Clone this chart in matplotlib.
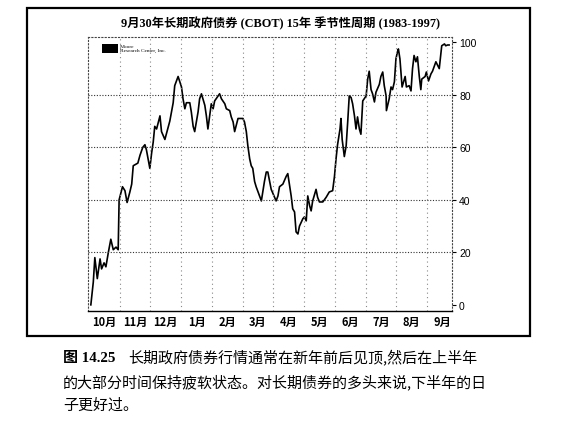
import matplotlib
matplotlib.use("Agg")
import matplotlib.pyplot as plt
from matplotlib.patches import Rectangle

plt.rcParams['font.family'] = ['Noto Sans CJK SC', 'DejaVu Sans']

# 月份位置 (0 = 10月初) 与季节性指数
t = [0.06, 0.14, 0.19, 0.27, 0.36, 0.41, 0.49, 0.55, 0.63, 0.71, 0.79, 0.88, 0.95, 0.98,
     1.09, 1.17, 1.24, 1.33, 1.39, 1.44, 1.59, 1.66, 1.75, 1.82, 1.87, 1.98,
     2.04, 2.09, 2.14, 2.20, 2.31, 2.36, 2.47, 2.63, 2.74, 2.79, 2.90,
     3.01, 3.06, 3.12, 3.17, 3.28, 3.33, 3.39, 3.44, 3.55, 3.60, 3.66, 3.77, 3.82, 3.87, 3.98,
     4.04, 4.09, 4.20, 4.25, 4.31, 4.42, 4.47, 4.58, 4.63, 4.69, 4.74, 4.85,
     5.01, 5.06, 5.12, 5.17, 5.23, 5.28, 5.33, 5.39, 5.44, 5.55, 5.61, 5.71, 5.77, 5.82, 5.88, 5.93,
     6.04, 6.09, 6.15, 6.20, 6.31, 6.42, 6.47, 6.58, 6.63, 6.69, 6.74, 6.80, 6.85, 6.96,
     7.01, 7.07, 7.12, 7.18, 7.23, 7.28, 7.39, 7.44, 7.50, 7.61, 7.72, 7.82, 7.93, 7.99,
     8.04, 8.09, 8.17, 8.20, 8.24, 8.31, 8.37, 8.42, 8.47, 8.53, 8.58, 8.64, 8.69, 8.74, 8.80, 8.85, 8.91,
     9.02, 9.07, 9.12, 9.18, 9.23, 9.29, 9.34, 9.45, 9.50, 9.56, 9.61, 9.67, 9.68, 9.77, 9.83, 9.88, 9.94, 9.99,
     10.04, 10.07, 10.12, 10.19, 10.29, 10.33, 10.42, 10.48, 10.53, 10.58, 10.64, 10.69, 10.75, 10.80, 10.83, 10.94, 10.98,
     11.05, 11.13, 11.18, 11.29, 11.40, 11.45, 11.48, 11.57, 11.61, 11.67, 11.72]
v = [0, 8.7, 18, 10, 17.5, 13.7, 16, 14.5, 20, 25, 21, 22, 21, 40,
     45, 43.5, 39, 43, 46, 53, 54, 57, 60, 61, 59, 52,
     58, 62, 68, 67, 72, 66, 63, 70, 77, 83.5, 87,
     83, 78.5, 74.7, 77, 77, 73.5, 68, 66, 73.5, 78.5, 80.4, 76, 72, 67, 76.6,
     74.7, 77.7, 79.6, 80.4, 78.5, 76.6, 74.7, 74, 71.6, 69.7, 66, 71,
     71, 69.7, 66, 60.6, 55.6, 53, 52, 47, 45, 41.5, 39.6, 47, 50.6, 50.6, 47, 44,
     41, 39.6, 41.5, 45, 46, 49, 50, 41.5, 36.6, 35.4, 27.8, 27, 30, 32.8,
     33.5, 32, 41.5, 37.8, 35.8, 39.6, 44, 41, 39.2, 39.2, 41, 43, 43.5, 49,
     55.6, 61, 67, 71, 63, 56.5, 60.6, 69.7, 79.6, 79, 76.6, 72, 67, 71.6, 67, 65, 77.7,
     79.6, 86, 89, 82, 80.4, 77.3, 81, 84, 87, 88.7, 83.5, 79.6, 74, 78.5, 83, 82, 85, 93.7,
     96.4, 97.5, 93.7, 83, 87, 83, 83.5, 81.5, 90, 95, 92.6, 94.5, 87, 82, 86, 87, 88.7,
     85.3, 88, 89, 92.6, 90, 95.6, 98.7, 99.4, 98.7, 99, 99]

months = ['10月', '11月', '12月', '1月', '2月', '3月', '4月', '5月', '6月', '7月', '8月', '9月']
yticks = [0, 20, 40, 60, 80, 100]

title = '9月30年长期政府债券 (CBOT) 15年 季节性周期 (1983-1997)'
fig_no = '图 14.25'
caption = ['长期政府债券行情通常在新年前后见顶,然后在上半年',
           '的大部分时间保持疲软状态。对长期债券的多头来说,下半年的日',
           '子更好过。']

fig = plt.figure(figsize=(5.61, 4.35), dpi=100)

# 外框
fig.patches.append(Rectangle((0.048, 0.225), 0.897, 0.754, transform=fig.transFigure,
                             fill=False, edgecolor='black', linewidth=1.6))

ax = fig.add_axes([0.157, 0.283, 0.649, 0.630])
ax.plot(t, v, color='black', linewidth=1.2)

ax.set_xlim(-0.03, 11.82)
ax.set_ylim(-2.3, 102.1)

# 网格
for k in range(1, 12):
    ax.axvline(k, color='#888888', linestyle=(0, (1, 3)), linewidth=0.8)
for y in [20, 40, 60, 80]:
    ax.axhline(y, color='#333333', linestyle=(0, (1, 1.5)), linewidth=0.8)

ax.set_xticks([k + 0.5 for k in range(12)])
ax.set_xticklabels(months, fontsize=8, fontweight='bold')
ax.tick_params(axis='x', length=0, pad=3)

ax.yaxis.tick_right()
ax.set_yticks(yticks)
ax.set_yticklabels([str(y) for y in yticks], fontsize=7.5, family='Liberation Sans')
ax.tick_params(axis='y', length=3, width=0.8, pad=2)

for side in ['top', 'left', 'right']:
    ax.spines[side].set_linestyle((0, (1, 2)))
    ax.spines[side].set_color('#444444')
    ax.spines[side].set_linewidth(0.8)
ax.spines['bottom'].set_linewidth(1.0)

# 标志
ax.add_patch(Rectangle((0.038, 0.94), 0.044, 0.035, transform=ax.transAxes,
                       color='black', linewidth=0))
ax.text(0.088, 0.958, 'Moore\nResearch Center, Inc.', transform=ax.transAxes,
        fontsize=3.9, family='Liberation Serif', va='center', linespacing=0.95)

fig.text(0.5, 0.945, title, ha='center', va='center', fontsize=8.8, fontweight='bold',
         family=['Liberation Serif', 'Noto Sans CJK SC'])

fig.text(0.112, 0.177, fig_no, ha='left', va='center', fontsize=10.8, fontweight='bold',
         family=['Liberation Serif', 'Noto Sans CJK SC'])
fig.text(0.228, 0.177, caption[0], ha='left', va='center', fontsize=10.8)
for i, line in enumerate(caption[1:]):
    fig.text(0.112, 0.122 - i * 0.054, line, ha='left', va='center', fontsize=10.8)

fig.savefig('out.png', dpi=100)
